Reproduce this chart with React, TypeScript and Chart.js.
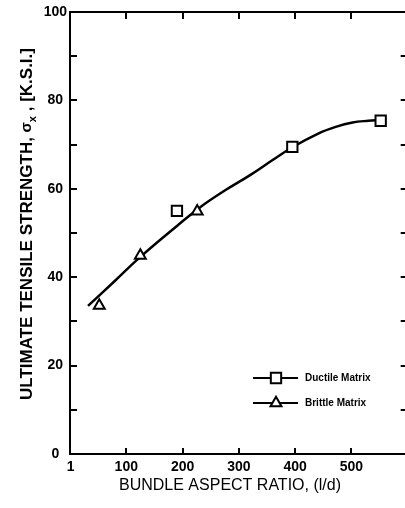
import React, { useEffect, useRef } from "react";
import { Chart, registerables } from "chart.js";

Chart.register(...registerables);

// ---- data ----
const ductileX = [190, 395, 552];
const ductileY = [55.0, 69.5, 75.4];
const brittleX = [52, 125, 226];
const brittleY = [33.6, 44.9, 54.9];
const curveX = [32, 80, 125, 190, 232, 275, 320, 360, 395, 441, 472, 502, 530, 552];
const curveY = [33.5, 39.2, 44.6, 51.6, 55.9, 59.6, 63.1, 66.5, 69.4, 72.5, 74.0, 75.0, 75.4, 75.6];

const xTickValues = [1, 100, 200, 300, 400, 500];
const xTickLabels = ["1", "100", "200", "300", "400", "500"];
const xTickMarks = [100, 200, 300, 400, 500];
const yTickValues = [0, 10, 20, 30, 40, 50, 60, 70, 80, 90, 100];
const yLabelValues = [0, 20, 40, 60, 80, 100];

const seriesNames = ["Ductile Matrix", "Brittle Matrix"];
const seriesStyles = ["rect", "triangle"];
const xTitle = "BUNDLE ASPECT RATIO, (l/d)";
const yTitleParts = ["ULTIMATE TENSILE STRENGTH, ", "σ", "x", " , [K.S.I.]"];

const FONT = '"Liberation Sans", Arial, sans-serif';

function drawMarker(ctx: CanvasRenderingContext2D, style: string, x: number, y: number, r: number) {
  ctx.beginPath();
  if (style === "rect") {
    const s = Math.SQRT1_2 * r;
    ctx.rect(x - s, y - s, 2 * s, 2 * s);
  } else {
    let rad = 0;
    ctx.moveTo(x + Math.sin(rad) * r, y - Math.cos(rad) * r);
    rad += (2 * Math.PI) / 3;
    ctx.lineTo(x + Math.sin(rad) * r, y - Math.cos(rad) * r);
    rad += (2 * Math.PI) / 3;
    ctx.lineTo(x + Math.sin(rad) * r, y - Math.cos(rad) * r);
    ctx.closePath();
  }
  ctx.fillStyle = "#fff";
  ctx.fill();
  ctx.lineWidth = 2;
  ctx.strokeStyle = "#000";
  ctx.stroke();
}

const framePlugin = {
  id: "frameTicks",
  beforeDatasetsDraw(chart: any) {
    const { ctx, chartArea } = chart;
    const xs = chart.scales.x;
    const ys = chart.scales.y;
    ctx.save();
    ctx.strokeStyle = "#000";
    ctx.lineWidth = 2;
    ctx.strokeRect(chartArea.left, chartArea.top, chartArea.right - chartArea.left, chartArea.bottom - chartArea.top);
    ctx.beginPath();
    yTickValues.forEach((v) => {
      const py = Math.round(ys.getPixelForValue(v));
      ctx.moveTo(chartArea.left, py);
      ctx.lineTo(chartArea.left + 7, py);
      ctx.moveTo(chartArea.right, py);
      ctx.lineTo(chartArea.right - 7, py);
    });
    xTickMarks.forEach((v) => {
      const px = Math.round(xs.getPixelForValue(v));
      ctx.moveTo(px, chartArea.bottom);
      ctx.lineTo(px, chartArea.bottom - 6);
      ctx.moveTo(px, chartArea.top);
      ctx.lineTo(px, chartArea.top + 7);
    });
    ctx.stroke();
    ctx.restore();
  },
  afterDraw(chart: any) {
    const { ctx } = chart;
    ctx.save();
    // legend
    const rows = [378, 403];
    seriesNames.forEach((name, i) => {
      const y = rows[i];
      ctx.beginPath();
      ctx.strokeStyle = "#000";
      ctx.lineWidth = 2;
      ctx.moveTo(253, y);
      ctx.lineTo(298, y);
      ctx.stroke();
      drawMarker(ctx, seriesStyles[i], 276, y, seriesStyles[i] === "rect" ? 7.3 : 6.3);
      ctx.fillStyle = "#000";
      ctx.font = "bold 10px " + FONT;
      ctx.textAlign = "left";
      ctx.textBaseline = "middle";
      ctx.fillText(name, 305, y);
    });
    // x title
    ctx.font = "16px " + FONT;
    ctx.textAlign = "center";
    ctx.textBaseline = "middle";
    ctx.fillStyle = "#000";
    ctx.fillText(xTitle, 230, 486);
    // y title
    ctx.translate(27.5, 224);
    ctx.rotate(-Math.PI / 2);
    const fonts = ["bold 17px " + FONT, "bold 15px " + FONT, "bold 11px " + FONT, "bold 17px " + FONT];
    const offs = [0, -1, 5, 0];
    const widths = yTitleParts.map((t, i) => {
      ctx.font = fonts[i];
      return ctx.measureText(t).width;
    });
    const total = widths.reduce((a, b) => a + b, 0);
    let cx = -total / 2;
    ctx.textAlign = "left";
    ctx.textBaseline = "middle";
    yTitleParts.forEach((t, i) => {
      ctx.font = fonts[i];
      ctx.fillText(t, cx, offs[i]);
      cx += widths[i];
    });
    ctx.restore();
  },
};

export default function App() {
  const ref = useRef<HTMLCanvasElement | null>(null);
  useEffect(() => {
    if (!ref.current) return;
    Chart.defaults.color = "#000";
    const chart = new Chart(ref.current, {
      type: "scatter",
      data: {
        datasets: [
          {
            label: seriesNames[0],
            data: ductileX.map((x, i) => ({ x, y: ductileY[i] })),
            pointStyle: "rect",
            pointRadius: 7.3,
            pointHoverRadius: 7.3,
            pointBackgroundColor: "#fff",
            pointBorderColor: "#000",
            pointBorderWidth: 2,
            showLine: false,
            order: 0,
          },
          {
            label: seriesNames[1],
            data: brittleX.map((x, i) => ({ x, y: brittleY[i] })),
            pointStyle: "triangle",
            pointRadius: 6.3,
            pointHoverRadius: 6.3,
            pointBackgroundColor: "#fff",
            pointBorderColor: "#000",
            pointBorderWidth: 2,
            showLine: false,
            order: 1,
          },
          {
            label: "fit",
            data: curveX.map((x, i) => ({ x, y: curveY[i] })),
            showLine: true,
            borderColor: "#000",
            borderWidth: 2.5,
            pointRadius: 0,
            tension: 0.4,
            order: 2,
          } as any,
        ],
      },
      options: {
        responsive: false,
        animation: false,
        events: [],
        layout: { padding: { left: 0, right: 5, top: 12, bottom: 0 } },
        plugins: { legend: { display: false }, tooltip: { enabled: false } },
        scales: {
          x: {
            type: "linear",
            min: 0,
            max: 600,
            grid: { display: false, drawTicks: false },
            border: { display: false },
            afterBuildTicks: (s: any) => {
              s.ticks = xTickValues.map((v) => ({ value: v }));
            },
            afterFit: (s: any) => {
              s.height = 54;
            },
            ticks: {
              autoSkip: false,
              maxRotation: 0,
              padding: 5,
              font: { family: FONT, size: 14, weight: "bold" },
              color: "#000",
              callback: (v: any) => {
                const i = xTickValues.indexOf(Number(v));
                return i >= 0 ? xTickLabels[i] : "";
              },
            },
          },
          y: {
            type: "linear",
            min: 0,
            max: 100,
            grid: { display: false, drawTicks: false },
            border: { display: false },
            afterBuildTicks: (s: any) => {
              s.ticks = yTickValues.map((v) => ({ value: v }));
            },
            afterFit: (s: any) => {
              s.width = 70;
            },
            ticks: {
              autoSkip: false,
              padding: 3,
              crossAlign: "center",
              font: { family: FONT, size: 14, weight: "bold" },
              color: "#000",
              callback: (v: any) => (yLabelValues.indexOf(Number(v)) >= 0 ? String(v) : ""),
            },
          },
        },
      },
      plugins: [framePlugin],
    } as any);
    return () => chart.destroy();
  }, []);
  return (
    <div style={{ position: "absolute", left: 0, top: 0, width: 405, height: 508, overflow: "hidden", background: "#fff" }}>
      <canvas ref={ref} width={417} height={508} style={{ display: "block" }} />
    </div>
  );
}
